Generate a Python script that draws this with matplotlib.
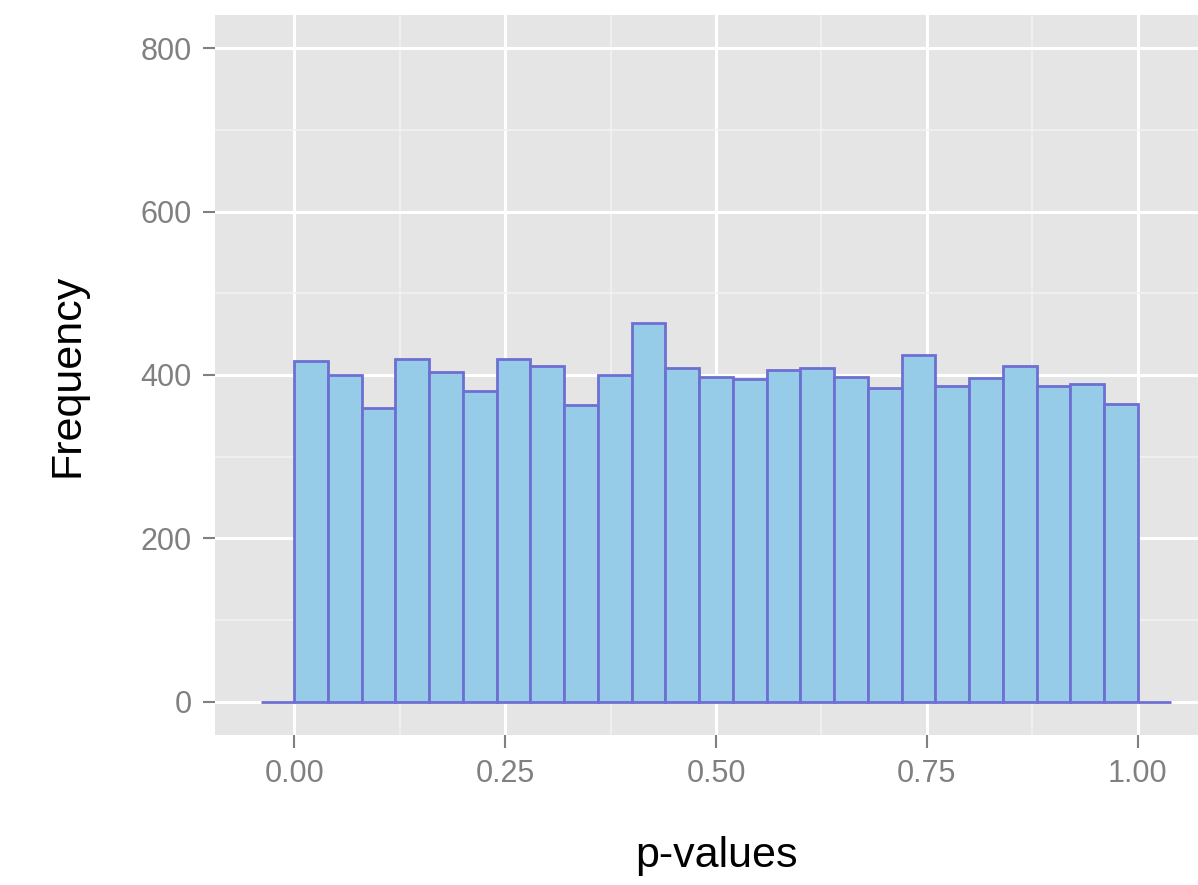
import numpy as np
import matplotlib
matplotlib.use("Agg")
import matplotlib.pyplot as plt
from matplotlib.ticker import MultipleLocator

plt.rcParams['font.family'] = ['Liberation Sans', 'DejaVu Sans']

# bin edges of the histogram (width 0.04), with the empty bins at both ends
bin_left = np.round(np.arange(-0.04, 1.04, 0.04), 2)
counts = [0, 417, 400, 359, 419, 404, 380, 420, 411, 363, 400, 464, 408,
          397, 395, 406, 409, 398, 384, 425, 386, 396, 411, 386, 389, 365, 0]
bin_width = 0.04

x_ticks = [0.0, 0.25, 0.5, 0.75, 1.0]
x_labels = ["0.00", "0.25", "0.50", "0.75", "1.00"]
y_ticks = [0, 200, 400, 600, 800]

fig = plt.figure(figsize=(11.98, 8.85), dpi=100)
ax = fig.add_axes([215/1198, 1 - 735/885, 1002/1198, 720/885])
ax.set_facecolor("#E5E5E5")

# grid ggplot style
ax.xaxis.set_minor_locator(MultipleLocator(0.125))
ax.yaxis.set_minor_locator(MultipleLocator(100))
ax.grid(which="major", color="white", linewidth=2.2)
ax.grid(which="minor", color="#F2F2F2", linewidth=1.2)
ax.set_axisbelow(True)

ax.bar(bin_left, counts, width=bin_width, align="edge",
       color="#96CCE8", edgecolor="#6E6FD2", linewidth=2.0)

ax.set_xlim(-0.094, 1.094)
ax.set_ylim(-41, 841)
ax.set_xticks(x_ticks)
ax.set_xticklabels(x_labels)
ax.set_yticks(y_ticks)

for s in ax.spines.values():
    s.set_visible(False)

ax.tick_params(which="major", length=9, width=1.5, color="#808080",
               labelsize=22, labelcolor="#808080", pad=8)
ax.tick_params(which="minor", length=0)

ax.set_xlabel("p-values", fontsize=31, labelpad=34)
ax.set_ylabel("Frequency", fontsize=31, labelpad=38)

fig.savefig("out.png", dpi=100)
